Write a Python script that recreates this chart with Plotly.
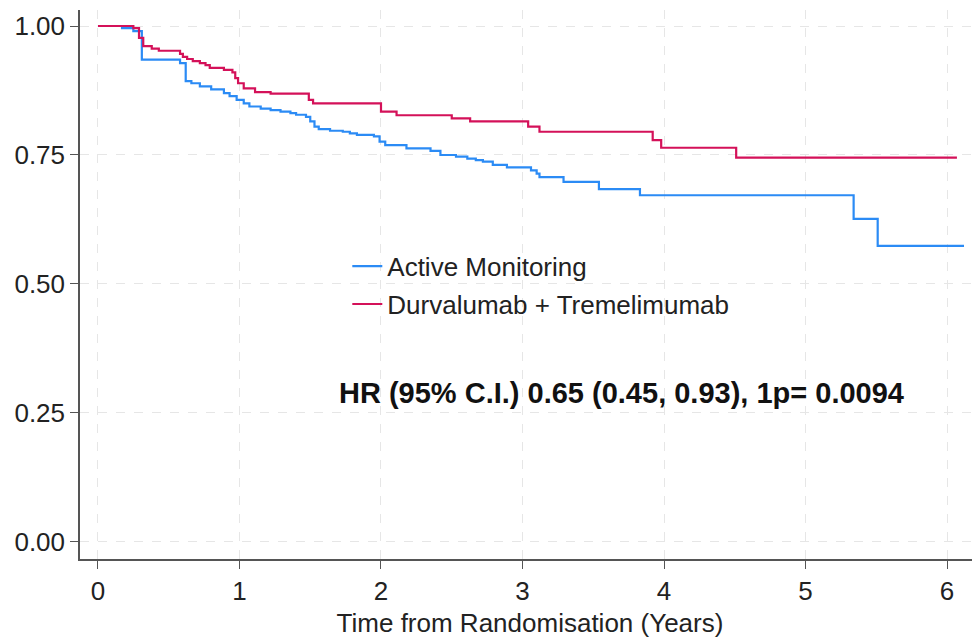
import plotly.graph_objects as go

# Kaplan-Meier step data
am_time = [0, 0.17, 0.25, 0.31, 0.58, 0.62, 0.66, 0.72, 0.80, 0.89, 0.93, 0.98, 1.03, 1.07, 1.15,
           1.22, 1.29, 1.36, 1.40, 1.47, 1.50, 1.53, 1.56, 1.64, 1.73, 1.78, 1.83, 1.95, 1.99, 2.03,
           2.18, 2.35, 2.42, 2.53, 2.61, 2.67, 2.72, 2.79, 2.89, 3.06, 3.10, 3.12, 3.29, 3.54, 3.83,
           5.34, 5.51, 6.12]
am_surv = [1.000, 0.996, 0.990, 0.935, 0.928, 0.893, 0.889, 0.883, 0.877, 0.870, 0.864, 0.857, 0.850,
           0.844, 0.840, 0.837, 0.834, 0.831, 0.828, 0.824, 0.815, 0.805, 0.800, 0.797, 0.795, 0.792,
           0.789, 0.786, 0.776, 0.769, 0.763, 0.758, 0.750, 0.747, 0.743, 0.740, 0.737, 0.731, 0.726,
           0.720, 0.714, 0.707, 0.698, 0.684, 0.672, 0.626, 0.574, 0.574]

dt_time = [0, 0.25, 0.29, 0.32, 0.38, 0.43, 0.58, 0.60, 0.63, 0.67, 0.72, 0.76, 0.79, 0.89, 0.95,
           0.97, 0.99, 1.03, 1.11, 1.22, 1.49, 1.52, 2.00, 2.11, 2.50, 2.63, 3.04, 3.12, 3.92, 3.98,
           4.51, 6.07]
dt_surv = [1.000, 0.996, 0.977, 0.961, 0.956, 0.952, 0.946, 0.940, 0.936, 0.932, 0.928, 0.924, 0.919,
           0.915, 0.910, 0.899, 0.889, 0.879, 0.872, 0.869, 0.857, 0.850, 0.834, 0.827, 0.821, 0.815,
           0.805, 0.795, 0.779, 0.764, 0.745, 0.745]

series_names = ["Active Monitoring", "Durvalumab + Tremelimumab"]
x_ticks = [0, 1, 2, 3, 4, 5, 6]
y_ticks = [0.0, 0.25, 0.5, 0.75, 1.0]
y_tick_labels = ["0.00", "0.25", "0.50", "0.75", "1.00"]
hr_text = "HR (95% C.I.) 0.65 (0.45, 0.93), 1p= 0.0094"
x_title = "Time from Randomisation (Years)"

BLUE = "#2B8BF5"
RED = "#D41159"
FONT = "Liberation Sans, Arial, sans-serif"

fig = go.Figure()
fig.add_trace(go.Scatter(x=am_time, y=am_surv, mode="lines", name=series_names[0],
                         line=dict(color=BLUE, width=2.2, shape="hv"), legendgroup="a"))
fig.add_trace(go.Scatter(x=dt_time, y=dt_surv, mode="lines", name=series_names[1],
                         line=dict(color=RED, width=2.2, shape="hv"), legendgroup="b"))

fig.add_annotation(x=3.70, y=0.289, xref="x", yref="y", text="<b>" + hr_text + "</b>",
                   showarrow=False, font=dict(family=FONT, size=29, color="#111111"))

axis_common = dict(showline=True, linecolor="#555555", linewidth=1.5, ticks="outside",
                   ticklen=8, tickwidth=1.2, tickcolor="#555555", zeroline=False,
                   showgrid=True, gridcolor="#e6e6e6", griddash="dash", gridwidth=1,
                   tickfont=dict(family=FONT, size=26, color="#222222"))

fig.update_xaxes(range=[-0.127, 6.233], tickvals=x_ticks,
                 title=dict(text=x_title, font=dict(family=FONT, size=26, color="#222222"), standoff=9),
                 **axis_common)
fig.update_yaxes(range=[-0.033, 1.031], tickvals=y_ticks, ticktext=y_tick_labels, **axis_common)

fig.update_layout(
    width=980, height=644,
    margin=dict(l=72, r=8, t=2, b=93),
    plot_bgcolor="white", paper_bgcolor="white",
    font=dict(family=FONT, color="#222222"),
    showlegend=True,
    legend=dict(x=0.297, y=0.576, xanchor="left", yanchor="top",
                font=dict(family=FONT, size=26, color="#222222"),
                bgcolor="rgba(255,255,255,0)", tracegroupgap=1),
)

fig.write_html("out.html")
